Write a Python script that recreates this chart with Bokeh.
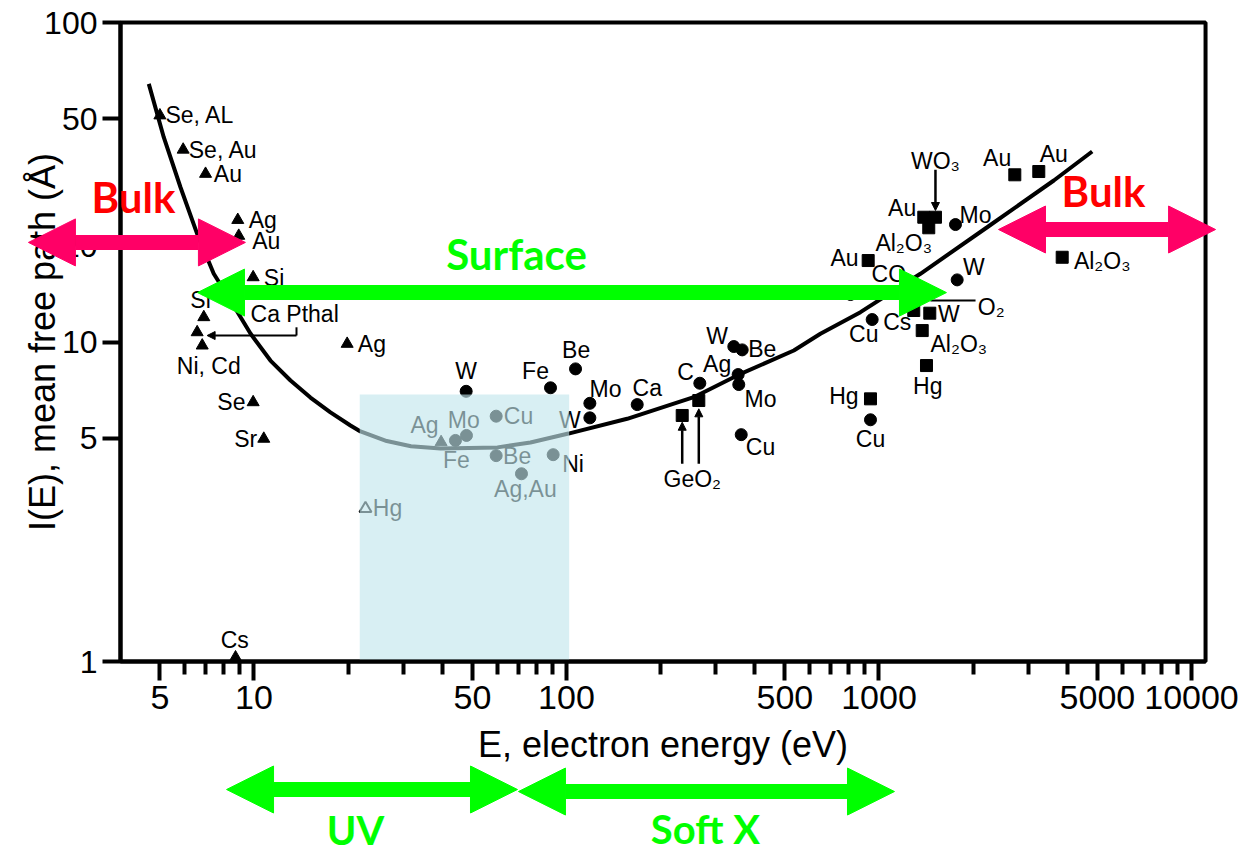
from bokeh.plotting import figure
from bokeh.models import (Range1d, FixedTicker, BoxAnnotation, Arrow, NormalHead,
                          Label, ColumnDataSource, PrintfTickFormatter)
from bokeh.core.properties import value
from bokeh.embed import file_html
from bokeh.resources import INLINE

# ---------------- data ----------------
E_MIN, E_MAX = 3.74, 11090          # plot box, eV
L_MIN, L_MAX = 1, 100               # plot box, Angstrom
x_major = [5, 10, 50, 100, 500, 1000, 5000, 10000]
x_minor = [6, 7, 8, 9, 20, 30, 40, 60, 70, 80, 90, 200, 300, 400, 600, 700, 800, 900,
           2000, 3000, 4000, 6000, 7000, 8000, 9000]
y_major = [1, 5, 10, 20, 50, 100]

curve_E = [4.607, 5.144, 5.819, 6.580, 7.436, 8.411, 9.745, 11.29, 13.09, 15.16, 17.57,
           20.36, 21.92, 26.6, 31.8, 39.53, 60.14, 76.68, 101.5, 156.4, 255.5, 351.8,
           533.9, 649.6, 872.5, 1357, 2219, 3626, 4811]
curve_l = [64.28, 43.75, 30.51, 21.81, 16.35, 13.49, 10.63, 8.75, 7.58, 6.70, 6.02,
           5.48, 5.25, 4.90, 4.72, 4.64, 4.68, 4.85, 5.17, 5.75, 6.72, 7.86,
           9.41, 10.61, 12.40, 16.35, 22.87, 32.03, 39.47]

tri_E = [5.0, 5.935, 7.0, 8.875, 8.94, 9.94, 6.91, 6.58, 6.83, 19.87, 9.94, 10.75, 8.73, 39.7]
tri_l = [51.2, 40.0, 33.6, 24.1, 21.5, 15.95, 11.96, 10.73, 9.75, 9.87, 6.48, 4.98, 1.03, 4.86]
open_tri_E = [22.74]
open_tri_l = [3.01]

circ_E = [47.75, 88.9, 106.9, 44.13, 47.86, 59.57, 59.57, 90.66, 71.78, 118.8, 118.8, 168.4,
          267.1, 354.3, 355.9, 343.1, 365.0, 362.4, 939.3, 1757, 1779, 810.8, 951.0]
circ_l = [7.01, 7.19, 8.24, 4.92, 5.10, 5.86, 4.41, 4.44, 3.87, 5.79, 6.43, 6.37,
          7.43, 7.91, 7.36, 9.68, 9.45, 5.13, 5.71, 23.32, 15.65, 14.08, 11.76]

sq_E = [234.6, 265.1, 939.3, 2720, 3246, 1391, 1516, 1443, 923.4, 1292, 1454, 1375, 1419, 3857]
sq_l = [5.89, 6.56, 6.64, 33.37, 34.17, 24.58, 24.58, 22.78, 17.99, 12.55, 12.31, 10.86, 8.44, 18.42]

label_text = ["Se, AL", "Se, Au", "Au", "Ag", "Au", "Si", "Si", "Ca Pthal", "Ni, Cd", "Ag",
              "Se", "Sr", "Hg", "Cs", "Ag", "W", "Fe", "Be", "Mo", "Cu",
              "Fe", "Be", "Ni", "Ag,Au", "W", "Mo", "Ca", "C", "Ag", "Mo",
              "W", "Be", "Cu", "GeO₂", "Hg", "Cu", "WO₃", "Au", "Au", "Au",
              "Mo", "Al₂O₃", "Au", "CO", "W", "O₂", "Cs", "W", "Cu", "Al₂O₃",
              "Hg", "Al₂O₃"]
label_E = [5.21, 6.185, 7.44, 9.62, 9.87, 10.75, 6.745, 9.75, 7.17, 21.49,
           9.39, 10.24, 24.0, 8.68, 35.12, 47.75, 79.6, 107.4, 46.9, 63.0,
           44.46, 62.7, 96.9, 73.9, 102.5, 133.3, 181.3, 240.4, 303.5, 417.8,
           303.5, 423.0, 417.8, 252.6, 771.8, 939.3, 1516, 2389, 3626, 1186,
           2037, 1200, 775.7, 1075, 2012, 2286, 1144, 1673, 894, 1801,
           1433, 5180]
label_l = [51.2, 40.0, 33.6, 24.1, 20.78, 15.92, 13.49, 12.25, 8.44, 9.87,
           6.48, 4.98, 3.03, 1.169, 5.48, 8.10, 8.14, 9.41, 5.71, 5.85,
           4.26, 4.41, 4.16, 3.47, 5.71, 7.14, 7.19, 8.05, 8.55, 6.64,
           10.48, 9.52, 4.69, 3.73, 6.80, 4.98, 36.8, 37.7, 38.8, 26.3,
           24.9, 20.38, 18.34, 16.27, 17.14, 12.85, 11.53, 12.25, 10.61, 9.87,
           7.31, 17.99]
label_align = ["left", "left", "left", "left", "left", "left", "center", "left", "center", "left",
               "right", "right", "left", "center", "center", "center", "center", "center", "center", "left",
               "center", "left", "left", "center", "center", "center", "center", "center", "center", "center",
               "center", "center", "center", "center", "center", "center", "center", "center", "center", "center",
               "center", "center", "center", "center", "center", "center", "center", "center", "center", "center",
               "center", "center"]

# small pointer arrows (E, start l, end l)
pointer_E = [234.6, 265.1, 1516]
pointer_l0 = [4.16, 4.16, 34.6]
pointer_l1 = [5.61, 6.18, 25.8]
# Ca Pthal bracket
bracket_E = [13.68, 7.08]
bracket_l = [11.12, 10.48]
# O2 bar
o2_E = [1461, 2037]
o2_l = 13.49

# shaded region
box_E = [21.8, 102]
box_l = [1, 6.85]

# region arrows
bulk_left_E, bulk_left_l = [1.898, 9.39], 20.5
bulk_right_E, bulk_right_l = [2412, 11940], 22.5
surface_E, surface_l = [6.595, 1644], 14.28
uv_E, uv_l = [8.17, 69.7], 0.3976
softx_E, softx_l = [70.2, 1121], 0.3918
region_text = ["Bulk", "Bulk", "Surface", "UV", "Soft X"]
region_E = [4.116, 5230, 69.2, 21.13, 278.4]
region_l = [28.34, 29.8, 18.92, 0.298, 0.300]
region_color = ["#FF0000", "#FF0000", "#00FF00", "#00FF00", "#00FF00"]
region_size = ["42px", "42px", "42px", "40px", "40px"]

# ---------------- figure ----------------
FONT = "Liberation Sans"
p = figure(width=1241, height=854, x_axis_type="log", y_axis_type="log",
           x_range=Range1d(1.545, 14454), y_range=Range1d(0.2489, 117.2),
           output_backend="svg", toolbar_location=None,
           min_border=0, min_border_left=0, min_border_right=0,
           min_border_top=0, min_border_bottom=0)
p.outline_line_color = None
p.grid.visible = False
p.background_fill_color = "white"
p.border_fill_color = "white"

xa = p.xaxis[0]
ya = p.yaxis[0]
xa.fixed_location = L_MIN
ya.fixed_location = E_MIN
xa.bounds = (E_MIN, E_MAX)
ya.bounds = (L_MIN, L_MAX)
xa.ticker = FixedTicker(ticks=x_major, minor_ticks=x_minor)
ya.ticker = FixedTicker(ticks=y_major, minor_ticks=[])
xa.formatter = PrintfTickFormatter(format="%d")
ya.formatter = PrintfTickFormatter(format="%d")
for ax in (xa, ya):
    ax.axis_line_width = 4
    ax.axis_line_color = "black"
    ax.major_tick_line_width = 4
    ax.minor_tick_line_width = 4
    ax.major_tick_in = 0
    ax.minor_tick_in = 0
    ax.major_label_text_color = "black"
    ax.major_label_text_font = FONT
    ax.axis_label_text_color = "black"
    ax.axis_label_text_font = FONT
    ax.axis_label_text_font_style = "normal"
    ax.axis_label_text_font_size = "36px"
xa.major_tick_out = 19
xa.minor_tick_out = 13
xa.major_label_standoff = 5
xa.major_label_text_font_size = "34px"
xa.axis_label = "E, electron energy (eV)"
xa.axis_label_standoff = 12
ya.major_tick_out = 18
ya.minor_tick_line_color = None
ya.major_label_standoff = 5
ya.major_label_text_font_size = "32px"
ya.axis_label = "I(E), mean free path (Å)"
ya.axis_label_standoff = -22

# curve
p.line(curve_E, curve_l, line_color="black", line_width=4)

# markers
p.scatter(tri_E, tri_l, marker="triangle", size=12, fill_color="black", line_color="black")
p.scatter(open_tri_E, open_tri_l, marker="triangle", size=12, fill_color="white",
          line_color="black", line_width=2)
p.scatter(circ_E, circ_l, marker="circle", size=12, fill_color="black", line_color="black")
p.scatter(sq_E, sq_l, marker="square", size=12, fill_color="black", line_color="black")

# labels
lab_src = ColumnDataSource(dict(x=label_E, y=label_l, text=label_text, align=label_align))
p.text(x="x", y="y", text="text", text_align="align", source=lab_src, text_baseline="middle",
       text_font=value(FONT), text_font_size="23px", text_color="black")

# small pointers
p.segment(x0=[bracket_E[0]], y0=[bracket_l[0]], x1=[bracket_E[0]], y1=[bracket_l[1]],
          line_color="black", line_width=2)
p.add_layout(Arrow(x_start=bracket_E[0], y_start=bracket_l[1], x_end=bracket_E[1], y_end=bracket_l[1],
                   line_width=2, end=NormalHead(size=8, fill_color="black", line_color="black")))
for e, a, b in zip(pointer_E, pointer_l0, pointer_l1):
    p.add_layout(Arrow(x_start=e, y_start=a, x_end=e, y_end=b, line_width=2.5,
                       end=NormalHead(size=8, fill_color="black", line_color="black")))
p.segment(x0=[o2_E[0]], y0=[o2_l], x1=[o2_E[1]], y1=[o2_l], line_color="black", line_width=2)

# shaded region (semi-transparent overlay)
p.add_layout(BoxAnnotation(left=box_E[0], right=box_E[1], bottom=box_l[0], top=box_l[1],
                           fill_color="#C2E6EC", fill_alpha=0.63, line_color=None))
# plot box
p.add_layout(BoxAnnotation(left=E_MIN, right=E_MAX, bottom=L_MIN, top=L_MAX,
                           fill_alpha=0, line_color="black", line_alpha=1.0, line_width=4))

# region arrows
def big_arrow(E_pair, l, color):
    hs = dict(size=47, fill_color=color, line_color=color, line_width=1)
    p.add_layout(Arrow(x_start=E_pair[0], y_start=l, x_end=E_pair[1], y_end=l,
                       line_color=color, line_width=15,
                       start=NormalHead(**hs), end=NormalHead(**hs)))

big_arrow(bulk_left_E, bulk_left_l, "#FF0066")
big_arrow(bulk_right_E, bulk_right_l, "#FF0066")
big_arrow(surface_E, surface_l, "#00FF00")
big_arrow(uv_E, uv_l, "#00FF00")
big_arrow(softx_E, softx_l, "#00FF00")

for t, e, l, c, s in zip(region_text, region_E, region_l, region_color, region_size):
    p.add_layout(Label(x=e, y=l, text=t, text_align="center", text_baseline="middle",
                       text_font="Lato", text_font_style="bold", text_font_size=s,
                       text_color=c))

open("out.html", "w").write(file_html(p, INLINE))
